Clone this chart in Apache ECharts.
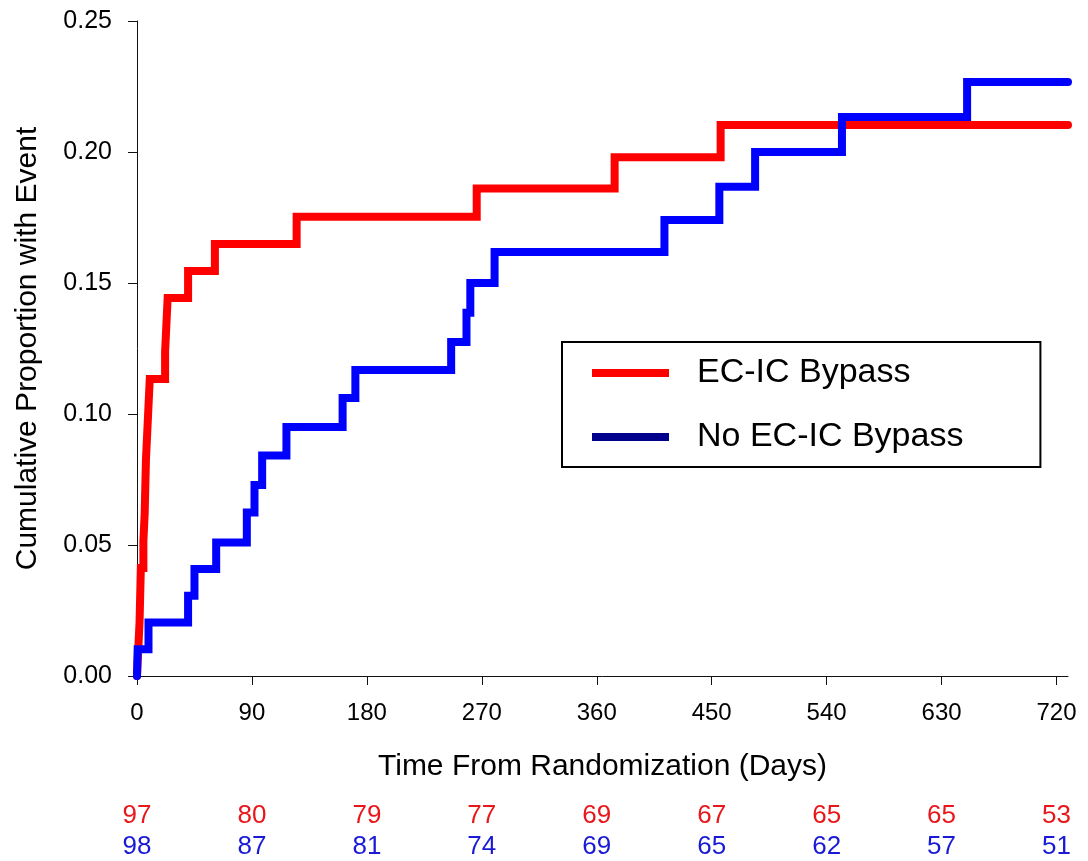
<!DOCTYPE html>
<html>
<head>
<meta charset="utf-8">
<script src="https://cdn.jsdelivr.net/npm/echarts@6/dist/echarts.min.js"></script>
<style>
    html, body { margin: 0; padding: 0; background: #fff; }
    #km_chart { width: 1088px; height: 861px; }
</style>
</head>
<body>
<div id="km_chart"></div>
<script>
// Data: [day, cumulative proportion with event]
var ecicSteps = [
    [0, 0], [1, 0.0103], [2, 0.0206], [2.5, 0.0309], [3, 0.0412], [5, 0.0515],
    [6, 0.0619], [6.5, 0.0722], [7, 0.0825], [8, 0.0928], [9, 0.1031], [10, 0.1134],
    [22, 0.1237], [23, 0.134], [24, 0.1443], [40, 0.1546], [61, 0.1649], [125, 0.1753],
    [266, 0.1861], [374, 0.198], [457, 0.2103], [729, 0.2103]
];
var noEcicSteps = [
    [0, 0], [0.5, 0.0102], [9, 0.0204], [40, 0.0306], [45, 0.0408], [62, 0.051],
    [86, 0.0624], [92, 0.0729], [98, 0.0842], [117, 0.095], [161, 0.1061], [171, 0.1168],
    [246, 0.1275], [258, 0.1386], [261, 0.150], [280, 0.1618], [413, 0.174], [456, 0.1867],
    [484, 0.200], [552, 0.2134], [650, 0.2267], [729, 0.2267]
];

// Ticks and numbers at risk
var dayTicks = [0, 90, 180, 270, 360, 450, 540, 630, 720];
var ecicAtRisk = [97, 80, 79, 77, 69, 67, 65, 65, 53];
var noEcicAtRisk = [98, 87, 81, 74, 69, 65, 62, 57, 51];

var FONT = 'Liberation Sans';

function riskAxis(counts, color, margin) {
    return {
        type: 'value',
        gridIndex: 0,
        position: 'bottom',
        min: 0,
        max: 729,
        axisLine: { show: false, onZero: false },
        axisTick: { show: false },
        splitLine: { show: false },
        axisLabel: {
            customValues: dayTicks,
            margin: margin,
            color: color,
            fontFamily: FONT,
            fontSize: 26,
            formatter: function (v) {
                var i = dayTicks.indexOf(v);
                return i >= 0 ? String(counts[i]) : '';
            }
        }
    };
}

var km_chart = echarts.init(document.getElementById('km_chart'));

var km_options = {
    animation: false,
    backgroundColor: '#fff',
    grid: { left: 137, right: 20, top: 21, bottom: 185, containLabel: false },

    legend: {
        orient: 'vertical',
        left: 562,
        top: 342,
        padding: [14, 77, 13, 30],
        itemGap: 30,
        itemWidth: 77,
        itemHeight: 8,
        icon: 'rect',
        borderColor: '#000',
        borderWidth: 2,
        textStyle: { fontFamily: FONT, fontSize: 34, color: '#000', padding: [0, 0, 0, 23] },
        data: [
            { name: 'EC-IC Bypass', itemStyle: { color: '#ff0000' } },
            { name: 'No EC-IC Bypass', itemStyle: { color: '#00008c' } }
        ]
    },

    xAxis: [
        {
            type: 'value',
            gridIndex: 0,
            position: 'bottom',
            min: 0,
            max: 729,
            name: 'Time From Randomization (Days)',
            nameLocation: 'middle',
            nameGap: 76,
            nameTextStyle: { fontFamily: FONT, fontSize: 30, color: '#000' },
            axisLine: { onZero: false, lineStyle: { color: '#111', width: 1 } },
            axisTick: { customValues: dayTicks, length: 9, lineStyle: { color: '#111' } },
            splitLine: { show: false },
            axisLabel: { customValues: dayTicks, margin: 25, fontFamily: FONT, fontSize: 24, color: '#000' }
        },
        riskAxis(ecicAtRisk, '#e8171b', 127),
        riskAxis(noEcicAtRisk, '#1a1ad6', 158)
    ],

    yAxis: {
        type: 'value',
        min: 0,
        max: 0.25,
        interval: 0.05,
        name: 'Cumulative Proportion with Event',
        nameLocation: 'middle',
        nameGap: 94,
        nameTextStyle: { fontFamily: FONT, fontSize: 30, color: '#000' },
        axisLine: { show: true, lineStyle: { color: '#111', width: 1 } },
        axisTick: { show: true, length: 9, lineStyle: { color: '#111' } },
        splitLine: { show: false },
        axisLabel: {
            margin: 25,
            fontFamily: FONT,
            fontSize: 25,
            color: '#000',
            formatter: function (v) { return v.toFixed(2); }
        }
    },

    series: [
        {
            name: 'EC-IC Bypass',
            type: 'line',
            step: 'end',
            showSymbol: false,
            color: '#ff0000',
            lineStyle: { color: '#ff0000', width: 8, cap: 'round', join: 'miter' },
            data: ecicSteps
        },
        {
            name: 'No EC-IC Bypass',
            type: 'line',
            step: 'end',
            showSymbol: false,
            color: '#0000ff',
            lineStyle: { color: '#0000ff', width: 8, cap: 'round', join: 'miter' },
            data: noEcicSteps
        }
    ]
};

km_chart.setOption(km_options);

window.onresize = function () {
    setTimeout(function () {
        km_chart.resize();
    }, 200);
};
</script>
</body>
</html>
